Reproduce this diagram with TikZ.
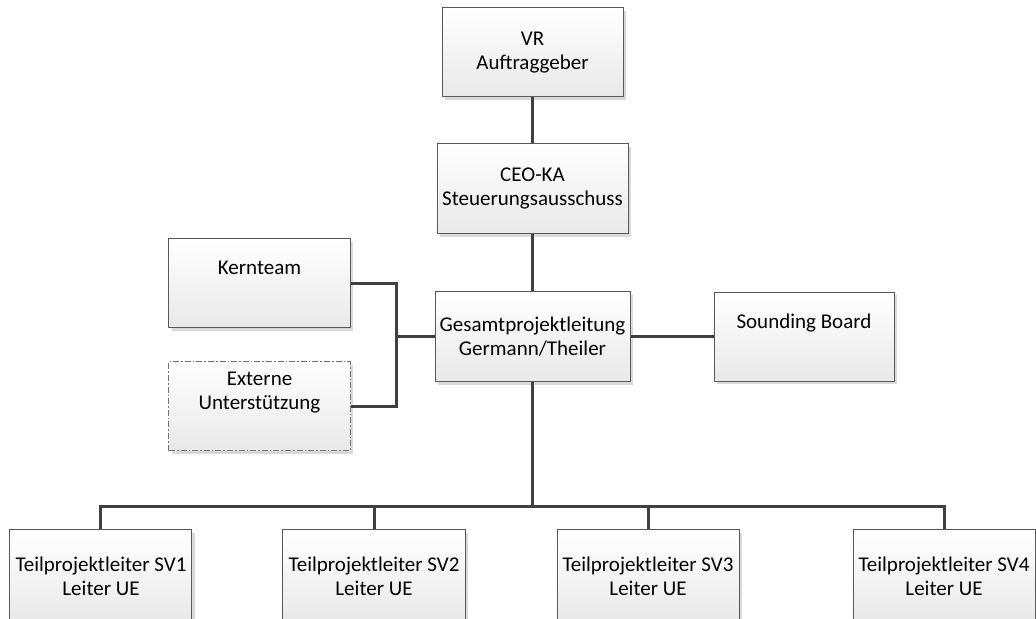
\documentclass[tikz,border=0pt]{standalone}
\usepackage{fontspec}
\setmainfont{Carlito}
\usetikzlibrary{positioning, calc, shadows}
\tikzset{
every node/.style = {font = \fontsize{10.5pt}{12pt}\selectfont},
unit/.style = {rectangle, draw = black!65, line width = .5pt, inner sep = 2pt,
   minimum width = 90.5pt, minimum height = 44.5pt, align = center,
   top color = white, bottom color = black!9,
   drop shadow = {shadow xshift = 1.5pt, shadow yshift = -1.5pt, fill = black!15, opacity = 1}},
external/.style = {unit, draw = black!55,
   dash pattern = on 3pt off 1pt on .8pt off 1pt},
link/.style = {draw = black!75, line width = 1.5pt}
}

\begin{document}
\begin{tikzpicture}

\useasboundingbox (-266.25pt, -141pt) rectangle (251.75pt, 168.5pt);

%% Project lead and steering
\node [unit, minimum width = 97.5pt, minimum height = 45pt] (gesamt) at (0,0)
   {Gesamtprojektleitung\\Germann/Theiler};
\node [unit, minimum width = 95.5pt, minimum height = 45pt] (ceo) [above = 28.5pt of gesamt]
   {CEO-KA\\Steuerungsausschuss};
\node [unit] (vr) [above = 23pt of ceo] {VR\\Auftraggeber};

%% Side units
\node [unit] (kern) [left = 42pt of gesamt, yshift = 26.75pt] {Kernteam\\\strut};
\node [external] (extern) [below = 16.5pt of kern] {Externe\\Unterstützung\\\strut};
\node [unit, minimum width = 90pt] (sounding) [right = 41.5pt of gesamt] {Sounding Board\\\strut};

%% Subprojects
\node [unit, minimum width = 91pt, minimum height = 46pt] (sv1) [below = 73.5pt of gesamt, xshift = -215.75pt]
   {Teilprojektleiter SV1\\Leiter UE};
\node [unit, minimum width = 91pt, minimum height = 46pt] (sv2) [right = 45pt of sv1]
   {Teilprojektleiter SV2\\Leiter UE};
\node [unit, minimum width = 91pt, minimum height = 46pt] (sv3) [right = 45.5pt of sv2]
   {Teilprojektleiter SV3\\Leiter UE};
\node [unit, minimum width = 91pt, minimum height = 46pt] (sv4) [right = 56.5pt of sv3]
   {Teilprojektleiter SV4\\Leiter UE};

%% Connections
\draw [link] (vr) -- (ceo);
\draw [link] (ceo) -- (gesamt);
\draw [link] (gesamt) -- (sounding);

\coordinate [left = 19pt of gesamt.west] (join);
\draw [link] (gesamt.west) -- (join);
\draw [link] (kern.east) -| (join) |- (extern.east);

\coordinate [above = 11.5pt of sv1.north] (bus);
\draw [link] (gesamt.south) -- (gesamt.south |- bus);
\draw [link] (sv1.north) -- (bus) -| (sv4.north);
\draw [link] (sv2.north) -- (sv2.north |- bus);
\draw [link] (sv3.north) -- (sv3.north |- bus);

\end{tikzpicture}
\end{document}
